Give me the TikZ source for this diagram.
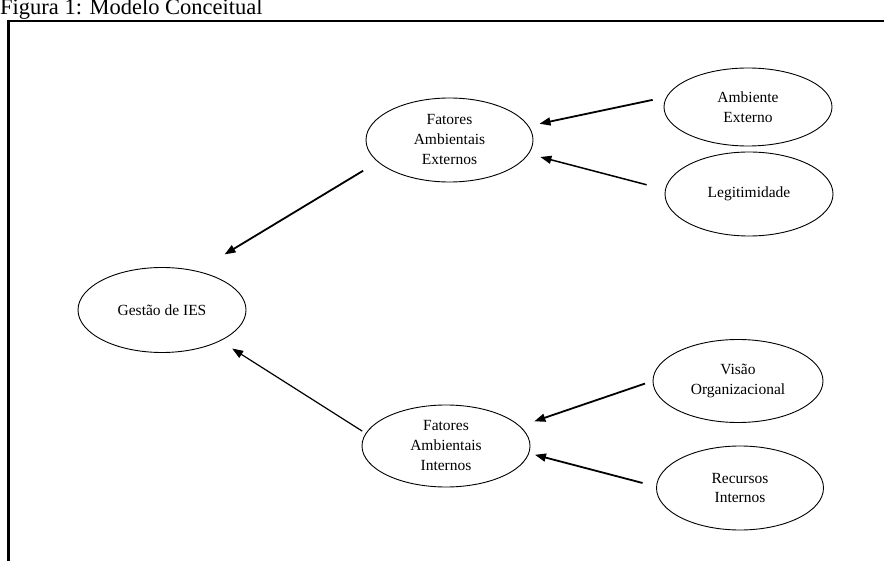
\documentclass[tikz,border=0pt]{standalone}
\usepackage{fontspec}
\setmainfont{Liberation Serif}
\usetikzlibrary{shapes.geometric,arrows.meta}

\begin{document}
\begin{tikzpicture}[x=1pt,y=-1pt,
    elip/.style={ellipse, draw, line width=0.9pt, minimum width=168pt,
      minimum height=84pt, inner sep=0pt, align=center,
      font=\fontsize{15.5}{20}\selectfont},
    seta/.style={line width=1.8pt, -{Triangle[length=11pt,width=8pt]}}]
  \useasboundingbox (0,0) rectangle (884,561);

  % titulo e moldura
  \node[anchor=base west, inner sep=0pt, font=\fontsize{22.5}{26}\selectfont] (tit) at (0,15) {Figura 1: Modelo Conceitual};
  \draw[line width=2.4pt] (8.5,561) -- (8.5,21) -- (884,21);

  % construtos
  \node[elip, minimum height=78pt] (amb) at (748,107) {Ambiente\\Externo};
  \node[elip] (leg) at (749,194) {Legitimidade};
  \node[elip, minimum width=167pt] (fae) at (449.5,140) {Fatores\\Ambientais\\Externos};
  \node[elip, minimum height=85pt] (ges) at (162,310) {Gest\~ao de IES};
  \node[elip, minimum height=82pt] (fai) at (446,446) {Fatores\\Ambientais\\Internos};
  \node[elip, minimum width=170pt, minimum height=83pt] (vis) at (738,381) {Vis\~ao\\Organizacional};
  \node[elip, minimum width=167pt] (rec) at (740,488) {Recursos\\Internos};

  % relacoes
  \draw[seta, shorten <=14pt, shorten >=11pt] (amb.173.5) -- (fae.10.9);
  \draw[seta, line width=1.5pt, shorten <=19pt, shorten >=12pt] (leg.177.2) -- (fae.-10.6);
  \draw[seta, shorten <=17pt, shorten >=32pt] (fae.197.1) -- (ges.48.1);
  \draw[seta, line width=1.2pt, shorten <=4pt, shorten >=14pt] (fai.171.2) -- (ges.-28.5);
  \draw[seta, shorten <=8pt, shorten >=15pt] (vis.180.5) -- (fai.15.3);
  \draw[seta, shorten <=14pt, shorten >=6pt] (rec.179.4) -- (fai.-5.8);
\end{tikzpicture}
\end{document}
